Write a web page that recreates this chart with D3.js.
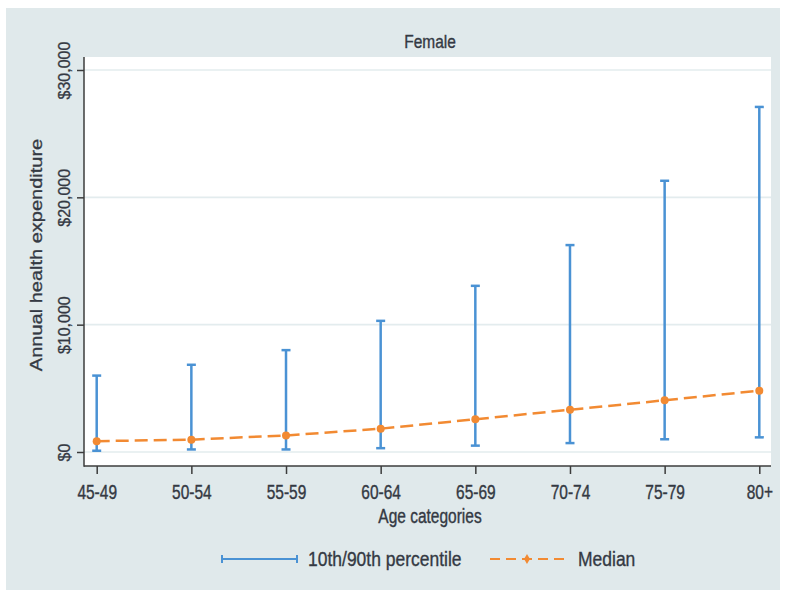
<!DOCTYPE html>
<html>
<head>
<meta charset="utf-8">
<script src="https://cdn.jsdelivr.net/npm/d3@7"></script>
<style>
  body { margin: 0; background: #fff; }
  text { font-family: "Liberation Sans", Arial, sans-serif; fill: #343943; stroke: #343943; stroke-width: 0.3; }
</style>
</head>
<body>
<svg id="chart" width="785" height="592"></svg>
<script>
// values
const ageGroups = ["45-49", "50-54", "55-59", "60-64", "65-69", "70-74", "75-79", "80+"];
const p10 = [100, 200, 200, 300, 500, 700, 1000, 1150];
const p90 = [6000, 6850, 8000, 10300, 13050, 16250, 21300, 27100];
const median = [850, 970, 1300, 1830, 2570, 3320, 4060, 4820];
const yTicks = [0, 10000, 20000, 30000];

const svg = d3.select("#chart");
const blue = "#4a92d4",
    orange = "#f28a32",
    axisColor = "#3c3c3c";

const plot = {left: 84, right: 771, top: 57, bottom: 466};

const x = d3.scalePoint()
    .domain(ageGroups)
    .range([96.7, 759.3]);

const y = d3.scaleLinear()
    .domain([0, 30000])
    .range([452, 70]);

const rows = ageGroups.map(function(g, i) {
    return {group: g, lo: p10[i], hi: p90[i], med: median[i]};
});

// background
svg.append("rect")
    .attr("x", 6).attr("y", 8)
    .attr("width", 774).attr("height", 582)
    .attr("fill", "#e0e9eb");

svg.append("rect")
    .attr("x", plot.left).attr("y", plot.top)
    .attr("width", plot.right - plot.left).attr("height", plot.bottom - plot.top)
    .attr("fill", "#ffffff");

// gridlines
svg.append("g")
    .selectAll("line")
    .data(yTicks)
    .enter().append("line")
    .attr("x1", plot.left).attr("x2", plot.right)
    .attr("y1", d => y(d)).attr("y2", d => y(d))
    .attr("stroke", "#e3ecee")
    .attr("stroke-width", 1.6);

// y axis
const yAxis = svg.append("g")
    .attr("transform", "translate(" + plot.left + ",0)")
    .call(d3.axisLeft(y)
        .tickValues(yTicks)
        .tickSize(7)
        .tickFormat(d => "$" + d3.format(",")(d)));
yAxis.select(".domain").remove();
yAxis.selectAll(".tick line").attr("stroke", axisColor).attr("stroke-width", 1.5);
yAxis.selectAll(".tick text")
    .attr("x", null).attr("dy", null)
    .attr("text-anchor", "middle")
    .attr("transform", "translate(-14,0) rotate(-90)")
    .style("font-size", "16px")
    .style("fill", "#343943");

// x axis
const xAxis = svg.append("g")
    .attr("transform", "translate(0," + plot.bottom + ")")
    .call(d3.axisBottom(x).tickSize(8));
xAxis.select(".domain").remove();
xAxis.selectAll(".tick line").attr("stroke", axisColor).attr("stroke-width", 1.5);
xAxis.selectAll(".tick text")
    .attr("y", null).attr("dy", null)
    .attr("transform", "translate(0,33) scale(1,1.3)")
    .style("font-size", "15.5px")
    .style("fill", "#343943");

// axis lines
svg.append("line")
    .attr("x1", plot.left).attr("x2", plot.left)
    .attr("y1", plot.top).attr("y2", plot.bottom + 0.75)
    .attr("stroke", axisColor).attr("stroke-width", 1.5);
svg.append("line")
    .attr("x1", plot.left).attr("x2", plot.right)
    .attr("y1", plot.bottom).attr("y2", plot.bottom)
    .attr("stroke", axisColor).attr("stroke-width", 1.5);

// titles
svg.append("text")
    .attr("transform", "translate(430,48) scale(1,1.2)")
    .attr("text-anchor", "middle")
    .style("font-size", "15.5px")
    .text("Female");

svg.append("text")
    .attr("transform", "translate(430,523) scale(1,1.25)")
    .attr("text-anchor", "middle")
    .style("font-size", "15.5px")
    .text("Age categories");

svg.append("text")
    .attr("transform", "translate(42,255) rotate(-90) scale(1.25,1)")
    .attr("text-anchor", "middle")
    .style("font-size", "16px")
    .text("Annual health expenditure");

// error bars
const bars = svg.append("g").attr("class", "bars")
    .selectAll("g")
    .data(rows)
    .enter().append("g");

bars.append("line")
    .attr("x1", d => x(d.group)).attr("x2", d => x(d.group))
    .attr("y1", d => y(d.lo)).attr("y2", d => y(d.hi))
    .attr("stroke", blue).attr("stroke-width", 2.5);

bars.selectAll("line.cap")
    .data(d => [{g: d.group, v: d.lo}, {g: d.group, v: d.hi}])
    .enter().append("line")
    .attr("class", "cap")
    .attr("x1", d => x(d.g) - 4.5).attr("x2", d => x(d.g) + 4.5)
    .attr("y1", d => y(d.v)).attr("y2", d => y(d.v))
    .attr("stroke", blue).attr("stroke-width", 2.5);

// median line
const line = d3.line()
    .x(d => x(d.group))
    .y(d => y(d.med));

svg.append("path")
    .datum(rows)
    .attr("d", line)
    .attr("fill", "none")
    .attr("stroke", orange)
    .attr("stroke-width", 2.5)
    .attr("stroke-dasharray", "13,6");

svg.append("g")
    .selectAll("circle")
    .data(rows)
    .enter().append("circle")
    .attr("cx", d => x(d.group))
    .attr("cy", d => y(d.med))
    .attr("r", 4)
    .attr("fill", orange);

// legend
const legend = svg.append("g").attr("class", "legend");
const ly = 559;

legend.append("line")
    .attr("x1", 222).attr("x2", 297)
    .attr("y1", ly).attr("y2", ly)
    .attr("stroke", blue).attr("stroke-width", 2);
legend.selectAll("line.lcap")
    .data([222, 297])
    .enter().append("line")
    .attr("class", "lcap")
    .attr("x1", d => d).attr("x2", d => d)
    .attr("y1", ly - 4).attr("y2", ly + 4)
    .attr("stroke", blue).attr("stroke-width", 2);
legend.append("text")
    .attr("transform", "translate(308,566) scale(1,1.2)")
    .style("font-size", "17.5px")
    .text("10th/90th percentile");

legend.append("line")
    .attr("x1", 490).attr("x2", 565)
    .attr("y1", ly).attr("y2", ly)
    .attr("stroke", orange).attr("stroke-width", 2)
    .attr("stroke-dasharray", "10,6");
legend.append("path")
    .attr("d", d3.symbol().type(d3.symbolDiamond).size(30))
    .attr("transform", "translate(527," + ly + ")")
    .attr("fill", orange);
legend.append("text")
    .attr("transform", "translate(578,566) scale(1,1.2)")
    .style("font-size", "17.5px")
    .text("Median");
</script>
</body>
</html>
